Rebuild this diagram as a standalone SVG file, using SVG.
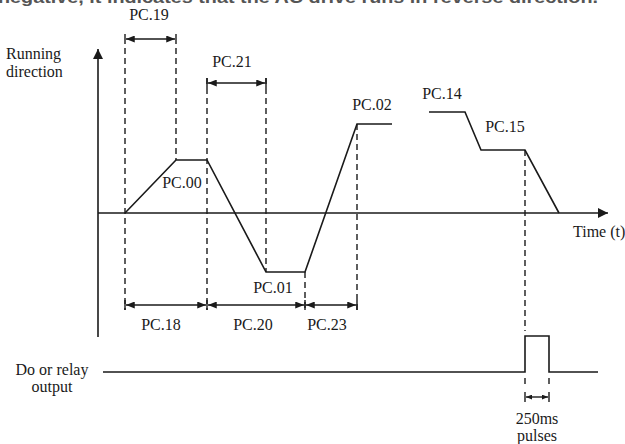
<svg xmlns="http://www.w3.org/2000/svg" width="625" height="444" viewBox="0 0 625 444">
<style>
text{font-family:"Liberation Serif","Times New Roman",serif;font-size:16px;fill:#1a1a1a}
.c{text-anchor:middle}
.ax{stroke:#1a1a1a;stroke-width:1.6;fill:none}
.pr{stroke:#1a1a1a;stroke-width:1.6;fill:none;stroke-linejoin:miter}
.da{stroke:#1a1a1a;stroke-width:1.4;stroke-dasharray:6,4;fill:none}
.dim{stroke:#1a1a1a;stroke-width:1.4;fill:none;marker-start:url(#ah);marker-end:url(#ah)}
.tk{stroke:#1a1a1a;stroke-width:1.4}
</style>
<defs>
<marker id="ah" viewBox="0 0 10 8" refX="10" refY="4" markerWidth="9" markerHeight="7" markerUnits="userSpaceOnUse" orient="auto-start-reverse">
<path d="M0,0 L10,4 L0,8 Z" fill="#1a1a1a"/>
</marker>
<marker id="sm" viewBox="0 0 10 8" refX="10" refY="4" markerWidth="6" markerHeight="5" markerUnits="userSpaceOnUse" orient="auto-start-reverse">
<path d="M0,0 L10,4 L0,8 Z" fill="#1a1a1a"/>
</marker>
<marker id="big" viewBox="0 0 10 10" refX="10" refY="5" markerWidth="10" markerHeight="14" markerUnits="userSpaceOnUse" orient="auto">
<path d="M0,0 L10,5 L0,10 Z" fill="#1a1a1a"/>
</marker>
</defs>

<text x="-2" y="3" textLength="600" lengthAdjust="spacingAndGlyphs" style="font-family:'Liberation Sans',Arial,sans-serif;font-weight:bold;font-size:16px;fill:#555">negative, it indicates that the AC drive runs in reverse direction.</text>

<g id="axes">
<line class="ax" x1="98" y1="337" x2="98" y2="49" marker-end="url(#big)"/>
<line class="ax" x1="98" y1="213" x2="608" y2="213" marker-end="url(#big)"/>
<text x="6" y="59">Running</text>
<text x="6" y="77">direction</text>
<text x="573" y="237">Time (t)</text>
</g>

<g id="profile">
<polyline class="pr" points="125,213 176,160 207,160 266,272 305,272 357,124 392,124"/>
<polyline class="pr" points="429,112 465,112 481,150 525,150 559,213"/>
<text class="c" x="182" y="188">PC.00</text>
<text class="c" x="273" y="293">PC.01</text>
<text class="c" x="372" y="110">PC.02</text>
<text class="c" x="442" y="99">PC.14</text>
<text class="c" x="505" y="132">PC.15</text>
</g>

<g id="guides">
<line class="da" x1="125" y1="48" x2="125" y2="310"/>
<line class="da" x1="176" y1="48" x2="176" y2="160"/>
<line class="da" x1="207" y1="78" x2="207" y2="310"/>
<line class="da" x1="266" y1="78" x2="266" y2="272"/>
<line class="da" x1="305" y1="272" x2="305" y2="310"/>
<line class="da" x1="357" y1="124" x2="357" y2="310"/>
<line class="da" x1="525" y1="150" x2="525" y2="331"/>
<line class="da" x1="525" y1="378" x2="525" y2="386"/>
<line class="da" x1="549" y1="378" x2="549" y2="386"/>
</g>

<g id="dimensions">
<line class="tk" x1="125" y1="34" x2="125" y2="44"/>
<line class="tk" x1="176" y1="34" x2="176" y2="44"/>
<line class="dim" x1="126" y1="39" x2="175" y2="39"/>
<text class="c" x="149" y="20">PC.19</text>

<line class="tk" x1="207" y1="78" x2="207" y2="88"/>
<line class="tk" x1="266" y1="78" x2="266" y2="88"/>
<line class="dim" x1="208" y1="83" x2="265" y2="83"/>
<text class="c" x="232" y="67">PC.21</text>

<line class="tk" x1="125" y1="300" x2="125" y2="310"/>
<line class="tk" x1="207" y1="300" x2="207" y2="310"/>
<line class="tk" x1="305" y1="300" x2="305" y2="310"/>
<line class="tk" x1="357" y1="300" x2="357" y2="310"/>
<line class="dim" x1="126" y1="305" x2="206" y2="305"/>
<line class="dim" x1="208" y1="305" x2="304" y2="305"/>
<line class="dim" x1="306" y1="305" x2="356" y2="305"/>
<text class="c" x="161" y="330">PC.18</text>
<text class="c" x="253" y="330">PC.20</text>
<text class="c" x="327" y="330">PC.23</text>
</g>

<g id="output">
<polyline class="pr" points="103,372 525,372 525,336 549,336 549,372 598,372"/>
<text class="c" x="52" y="375">Do or relay</text>
<text class="c" x="52" y="392">output</text>
<line class="tk" x1="525" y1="392" x2="525" y2="402"/>
<line class="tk" x1="549" y1="392" x2="549" y2="402"/>
<line class="dim" x1="526" y1="397" x2="548" y2="397" style="marker-start:url(#sm);marker-end:url(#sm)"/>
<text class="c" x="537" y="424">250ms</text>
<text class="c" x="537" y="441">pulses</text>
</g>
</svg>
